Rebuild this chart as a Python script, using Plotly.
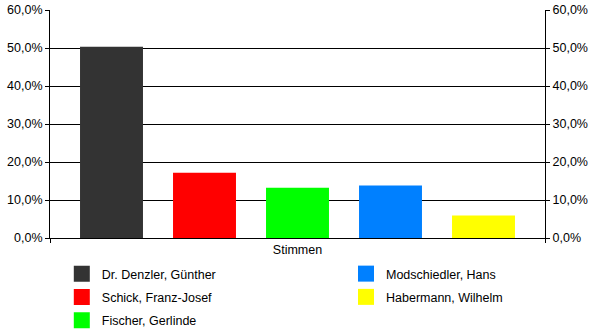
import plotly.graph_objects as go

category = ["Stimmen"]
candidates = ["Dr. Denzler, Günther", "Schick, Franz-Josef", "Fischer, Gerlinde",
              "Modschiedler, Hans", "Habermann, Wilhelm"]
shares = [0.503, 0.172, 0.132, 0.138, 0.059]
colors = ["#333333", "#FF0000", "#00FF00", "#0080FF", "#FFFF00"]
legend_column = ["legend", "legend", "legend", "legend2", "legend2"]
y_ticks = [0.0, 0.1, 0.2, 0.3, 0.4, 0.5, 0.6]

FONT = "Liberation Sans, Arial, sans-serif"
FS = 12.5

fig = go.Figure()
for name, v, c in zip(candidates, shares, colors):
    fig.add_trace(go.Bar(x=category, y=[v], name=name, marker_color=c,
                         marker_line_width=0, showlegend=False, hoverinfo="skip"))
# invisible trace so the right-hand axis is drawn
fig.add_trace(go.Scatter(x=category, y=[None], yaxis="y2", mode="markers",
                         showlegend=False, hoverinfo="skip"))
for name, c, lg in zip(candidates, colors, legend_column):
    fig.add_trace(go.Scatter(x=[None], y=[None], mode="markers", name=name,
                             marker=dict(symbol="square", size=16, color=c, line_width=0),
                             legend=lg, legendgroup=name, showlegend=True, hoverinfo="skip"))

axis_common = dict(range=[0, 0.6], tickvals=y_ticks, tickformat=".1%",
                   ticks="outside", ticklen=4, tickcolor="black", showline=True,
                   linecolor="black", linewidth=1, zeroline=False,
                   tickfont=dict(family=FONT, size=FS, color="black"))

legend_top = 1 - 259 / 333

fig.update_layout(
    width=600, height=333,
    margin=dict(l=50, r=55, t=10, b=95, pad=0, autoexpand=False),
    paper_bgcolor="white", plot_bgcolor="white",
    separators=",.",
    barmode="group", bargap=0.0606, bargroupgap=0.323,
    hovermode=False,
    font=dict(family=FONT, size=FS, color="black"),
    xaxis=dict(showline=True, linecolor="black", linewidth=1, ticks="outside",
               tickson="boundaries", ticklen=4, tickcolor="black", showgrid=False,
               automargin=False,
               tickfont=dict(family=FONT, size=FS, color="black")),
    yaxis=dict(showgrid=True, gridcolor="black", gridwidth=1, automargin=False,
               **axis_common),
    yaxis2=dict(overlaying="y", side="right", showgrid=False, automargin=False,
                anchor="x", **axis_common),
    legend=dict(x=0.103, xref="container", y=legend_top, yref="container",
                xanchor="left", yanchor="top", bgcolor="rgba(0,0,0,0)",
                tracegroupgap=4, font=dict(family=FONT, size=FS, color="black")),
    legend2=dict(x=346 / 600, xref="container", y=legend_top, yref="container",
                 xanchor="left", yanchor="top", bgcolor="rgba(0,0,0,0)",
                 tracegroupgap=4, font=dict(family=FONT, size=FS, color="black")),
)

fig.write_html("out.html", config={"displayModeBar": False})
